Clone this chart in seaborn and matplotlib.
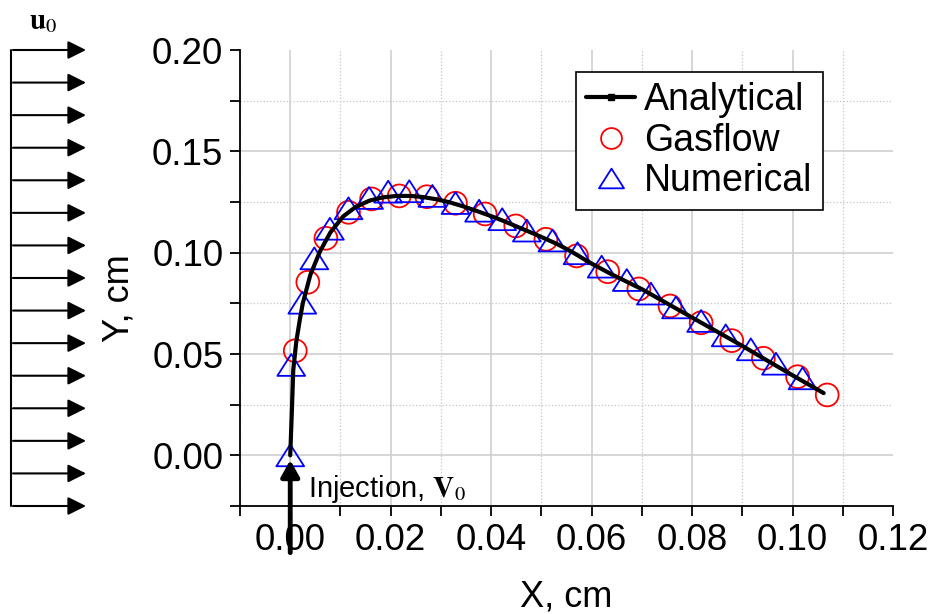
import numpy as np
import matplotlib
matplotlib.use('Agg')
import matplotlib.pyplot as plt
import matplotlib.transforms as mtransforms
from matplotlib.path import Path
from matplotlib.lines import Line2D
from matplotlib.ticker import MultipleLocator, FormatStrFormatter
import seaborn as sns

# analytical trajectory (cm)
ana_x = [0.0000, 0.0003, 0.0006, 0.0012, 0.0019, 0.0025, 0.0040, 0.0059, 0.0080, 0.0105,
         0.0130, 0.0158, 0.0185, 0.0212, 0.0240, 0.0265, 0.0292, 0.0318, 0.0345, 0.0371,
         0.0398, 0.0424, 0.0450, 0.0477, 0.0504, 0.0531, 0.0560, 0.0597, 0.0640, 0.0700,
         0.0750, 0.0800, 0.0850, 0.0900, 0.0950, 0.1000, 0.1062]
ana_y = [0.0000, 0.0200, 0.0420, 0.0560, 0.0668, 0.0750, 0.0890, 0.1005, 0.1100, 0.1178,
         0.1225, 0.1257, 0.1273, 0.1280, 0.1280, 0.1274, 0.1263, 0.1248, 0.1228, 0.1206,
         0.1182, 0.1157, 0.1130, 0.1102, 0.1073, 0.1043, 0.1005, 0.0950, 0.0893, 0.0820,
         0.0750, 0.0680, 0.0610, 0.0540, 0.0467, 0.0395, 0.0307]

# Gasflow results
gas_x = [0.0010, 0.0035, 0.0071, 0.0116, 0.0162, 0.0217, 0.0272, 0.0329, 0.0388, 0.0449,
         0.0509, 0.0570, 0.0632, 0.0694, 0.0756, 0.0818, 0.0879, 0.0942, 0.1010, 0.1069]
gas_y = [0.0516, 0.0854, 0.1071, 0.1199, 0.1265, 0.1280, 0.1276, 0.1244, 0.1191, 0.1132,
         0.1066, 0.0984, 0.0906, 0.0821, 0.0737, 0.0654, 0.0566, 0.0479, 0.0388, 0.0298]

# numerical results
num_x = [0.0000, 0.0002, 0.0024, 0.0048, 0.0079, 0.0116, 0.0157, 0.0195, 0.0237, 0.0283,
         0.0329, 0.0376, 0.0422, 0.0471, 0.0522, 0.0572, 0.0620, 0.0670, 0.0718, 0.0768,
         0.0818, 0.0867, 0.0917, 0.0967, 0.1020]
num_y = [0.0000, 0.0446, 0.0753, 0.0972, 0.1118, 0.1219, 0.1270, 0.1301, 0.1303, 0.1280,
         0.1245, 0.1207, 0.1165, 0.1109, 0.1060, 0.0997, 0.0931, 0.0865, 0.0798, 0.0730,
         0.0663, 0.0592, 0.0523, 0.0452, 0.0380]

sns.set_style('white')
plt.rcParams['font.family'] = ['Liberation Sans', 'DejaVu Sans']
plt.rcParams['mathtext.fontset'] = 'stix'
plt.rcParams['text.color'] = 'black'
plt.rcParams['axes.labelcolor'] = 'black'
plt.rcParams['xtick.labelcolor'] = 'black'
plt.rcParams['ytick.labelcolor'] = 'black'

W, H = 933, 614
fig = plt.figure(figsize=(W / 100, H / 100), dpi=100)
ax = fig.add_axes([240 / W, 1 - 506 / H, (893 - 240) / W, (506 - 50) / H])

# wide, flat triangle
tri = Path([(0, 0.786), (-1, -0.786), (1, -0.786), (0, 0.786)], closed=True)

sns.scatterplot(x=gas_x, y=gas_y, marker='o', s=270, facecolors='none',
                edgecolor='red', linewidth=1.3, ax=ax, zorder=3)
sns.scatterplot(x=num_x, y=num_y, marker=tri, s=400, facecolors='none',
                edgecolor='blue', linewidth=1.3, ax=ax, zorder=4)
sns.lineplot(x=ana_x, y=ana_y, sort=False, color='black', lw=3, ax=ax, zorder=5)

ax.set_xlim(-0.01, 0.12)
ax.set_ylim(-0.025, 0.20)
ax.xaxis.set_major_locator(MultipleLocator(0.02))
ax.xaxis.set_minor_locator(MultipleLocator(0.01))
ax.yaxis.set_major_locator(MultipleLocator(0.05))
ax.yaxis.set_minor_locator(MultipleLocator(0.025))
ax.xaxis.set_major_formatter(FormatStrFormatter('%.2f'))
ax.yaxis.set_major_formatter(FormatStrFormatter('%.2f'))

ax.grid(which='major', color='#cfcfcf', lw=1.2, ls='-')
ax.grid(which='minor', color='#c4c4c4', lw=0.9, ls=':')
ax.set_axisbelow(True)
for t, v in zip(ax.yaxis.get_major_ticks(), ax.get_yticks()):
    if v > 0.199:
        t.gridline.set_visible(False)
for t, v in zip(ax.xaxis.get_major_ticks(), ax.get_xticks()):
    if v > 0.119:
        t.gridline.set_visible(False)

sns.despine(ax=ax)
for s in ['left', 'bottom']:
    ax.spines[s].set_color('black')
    ax.spines[s].set_linewidth(1.3)
ax.tick_params(which='both', bottom=True, left=True, direction='out',
               length=7, width=1.3, color='black')
ax.tick_params(which='major', labelsize=26.5, pad=5, labelcolor='black')

ax.set_xlabel('X, cm', fontsize=26, va='center', color='black')
ax.xaxis.set_label_coords(0.5, -0.2)
ax.set_ylabel('Y, cm', fontsize=26, va='center', color='black')
ax.yaxis.set_label_coords(-0.185, 0.456)

# free stream arrows on the left
trans = mtransforms.blended_transform_factory(fig.transFigure, ax.transData)
ax.plot([11 / W, 11 / W], [-0.025, 0.20], transform=trans, clip_on=False,
        color='black', lw=1.5)
for y in np.linspace(-0.025, 0.20, 15):
    ax.annotate('', xy=(86 / W, y), xytext=(13 / W, y), xycoords=trans, textcoords=trans,
                arrowprops=dict(arrowstyle='-|>,head_length=0.5,head_width=0.25',
                                color='black', lw=1.5, mutation_scale=22,
                                shrinkA=0, shrinkB=0),
                annotation_clip=False)
fig.text(29 / W, 1 - 21 / H, r'$\mathbf{u}_0$', fontsize=21, va='center', ha='left',
         color='black')

# injection arrow
ax.annotate('', xy=(0, -0.0023), xytext=(0, -0.048),
            arrowprops=dict(arrowstyle='-|>,head_length=0.45,head_width=0.25',
                            color='black', lw=3.5, mutation_scale=22,
                            shrinkA=0, shrinkB=0),
            annotation_clip=False, zorder=6)
ax.text(0.0035, -0.0206, r'Injection, $\mathbf{V}_0$', fontsize=21,
        va='baseline', ha='left', color='black')

handles = [
    Line2D([], [], color='black', lw=3, marker='s', markersize=4),
    Line2D([], [], ls='none', marker='o', markersize=15, mfc='none', mec='red', mew=1.3),
    Line2D([], [], ls='none', marker=tri, markersize=18, mfc='none', mec='blue', mew=1.3),
]
leg = ax.legend(handles, ['Analytical', 'Gasflow', 'Numerical'], loc='upper right',
                bbox_to_anchor=(0.893, 0.952), fontsize=27, frameon=True, fancybox=False,
                edgecolor='black', framealpha=1, borderaxespad=0, handlelength=1.3,
                handletextpad=0.25, labelspacing=0.12, borderpad=0.28, labelcolor='black')
leg.get_frame().set_linewidth(1.2)

fig.savefig('out.png', dpi=100)
